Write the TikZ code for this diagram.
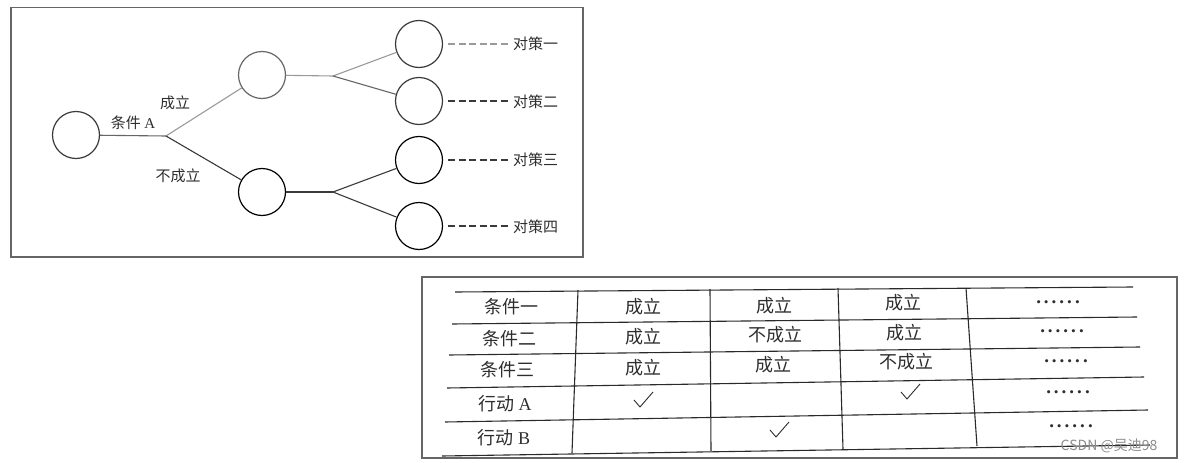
\documentclass[tikz,border=0pt]{standalone}
\usepackage{fontspec}
\setmainfont{Liberation Serif}
\newfontfamily\cjk{Noto Sans CJK SC}
\definecolor{txt}{HTML}{2E2E2E}
\definecolor{frm}{HTML}{666666}
\definecolor{lt}{HTML}{9A9A9A}
\definecolor{dk}{HTML}{3A3A3A}
\definecolor{tl}{HTML}{2A2A2A}
\newcommand{\sixdots}{\textbf{.\kern3pt.\kern3pt.\kern3pt.\kern3pt.\kern3pt.}}
\begin{document}
\begin{tikzpicture}[x=1pt,y=-1pt,
  frame/.style={draw=frm,line width=1.6pt},
  circ/.style={circle,draw=#1,line width=1.2pt,minimum size=47pt,inner sep=0pt},
  branch/.style={draw=#1,line width=1.1pt},
  dsh/.style={draw=#1,line width=1.2pt,dash pattern=on 7pt off 3.5pt,shorten <=5pt},
  lbl/.style={font=\cjk\fontsize{15}{15}\selectfont,text=txt,inner sep=0pt},
  cell/.style={font=\cjk\fontsize{18}{18}\selectfont,text=txt,inner sep=0pt},
  dots/.style={font=\fontsize{19}{19}\selectfont,text=txt,inner sep=0pt},
  tline/.style={draw=tl,line width=1.1pt},
  chk/.style={draw=txt,line width=0.9pt,line join=round}]
\useasboundingbox (0,0) rectangle (1184,463);
\fill[white] (0,0) rectangle (1184,463);
% ---------------- tree -----------------
\draw[frame] (11,7.5) rectangle (583,257);
\node[circ=dk] (r) at (76,135) {};
\node[circ=frm] (u) at (262,75) {};
\node[circ=black] (d) at (262,192) {};
\node[circ=dk] (c1) at (419,44) {};
\node[circ=dk] (c2) at (419,101) {};
\node[circ=black] (c3) at (419,160) {};
\node[circ=black] (c4) at (419,226) {};
\coordinate (s0) at (166,136);
\coordinate (s1) at (333,76);
\coordinate (s2) at (333,192);
\draw[branch=frm] (r) -- (s0);
\draw[branch=lt] (s0) -- (u);
\draw[branch=dk] (s0) -- (d);
\draw[branch=lt] (u) -- (s1);
\draw[branch=lt] (s1) -- (c1);
\draw[branch=frm] (s1) -- (c2);
\draw[branch=dk] (d) -- (s2);
\draw[branch=dk] (s2) -- (c3);
\draw[branch=dk] (s2) -- (c4);
\node[lbl] (la) at (133,123) {条件 \textrm{A}};
\node[lbl] (lb) at (175,103) {成立};
\node[lbl] (lc) at (178,176) {不成立};
\coordinate (e1) at (508,44);
\coordinate (e2) at (508,101);
\coordinate (e3) at (508,160);
\coordinate (e4) at (508,226);
\draw[dsh=lt] (c1) -- (e1);
\draw[dsh=dk] (c2) -- (e2);
\draw[dsh=dk] (c3) -- (e3);
\draw[dsh=dk] (c4) -- (e4);
\node[lbl,anchor=west] (t1) at (513,44) {对策一};
\node[lbl,anchor=west] (t2) at (513,102) {对策二};
\node[lbl,anchor=west] (t3) at (513,160) {对策三};
\node[lbl,anchor=west] (t4) at (513,227) {对策四};
% ---------------- table -----------------
\draw[frame] (422,277) rectangle (1177,458);
\draw[tline] (455,292) -- (1133,287);
\draw[tline] (452,324) -- (1137,317);
\draw[tline] (449,355) -- (1140,347);
\draw[tline] (447,388) -- (1144,377);
\draw[tline] (445,422) -- (1148,410);
\draw[tline] (442,456) -- (1150,445);
\draw[tline] (578,290) -- (572,453);
\draw[tline] (710,289) -- (711,451);
\draw[tline] (838,288) -- (843,449);
\draw[tline] (966,288) -- (977,446);
% row 1
\node[cell] (a1) at (511,307) {条件一};
\node[cell] (a2) at (643,307) {成立};
\node[cell] (a3) at (774,306) {成立};
\node[cell] (a4) at (903,303) {成立};
\node[dots] (a5) at (1058,302) {\sixdots};
% row 2
\node[cell] (b1) at (509,339) {条件二};
\node[cell] (b2) at (643,337) {成立};
\node[cell] (b3) at (775,335) {不成立};
\node[cell] (b4) at (904,333) {成立};
\node[dots] (b5) at (1062,331) {\sixdots};
% row 3
\node[cell] (c1t) at (507,370) {条件三};
\node[cell] (c2t) at (643,368) {成立};
\node[cell] (c3t) at (773,365) {成立};
\node[cell] (c4t) at (906,362) {不成立};
\node[dots] (c5t) at (1066,361) {\sixdots};
% row 4
\node[cell] (d1) at (505,404) {行动 \textrm{A}};
\draw[chk] (634,400) -- (640,407) -- (653,392);
\draw[chk] (901,392) -- (907,399) -- (920,384);
\node[dots] (d5) at (1068,392) {\sixdots};
% row 5
\node[cell] (f1) at (504,438) {行动 \textrm{B}};
\draw[chk] (770,430) -- (776,437) -- (789,422);
\node[dots] (f5) at (1071,426) {\sixdots};
% watermark
\node[font=\cjk\fontsize{14}{14}\selectfont,text=black!45,inner sep=0pt] (wm) at (1109,446) {CSDN @吴迪98};
\end{tikzpicture}
\end{document}
